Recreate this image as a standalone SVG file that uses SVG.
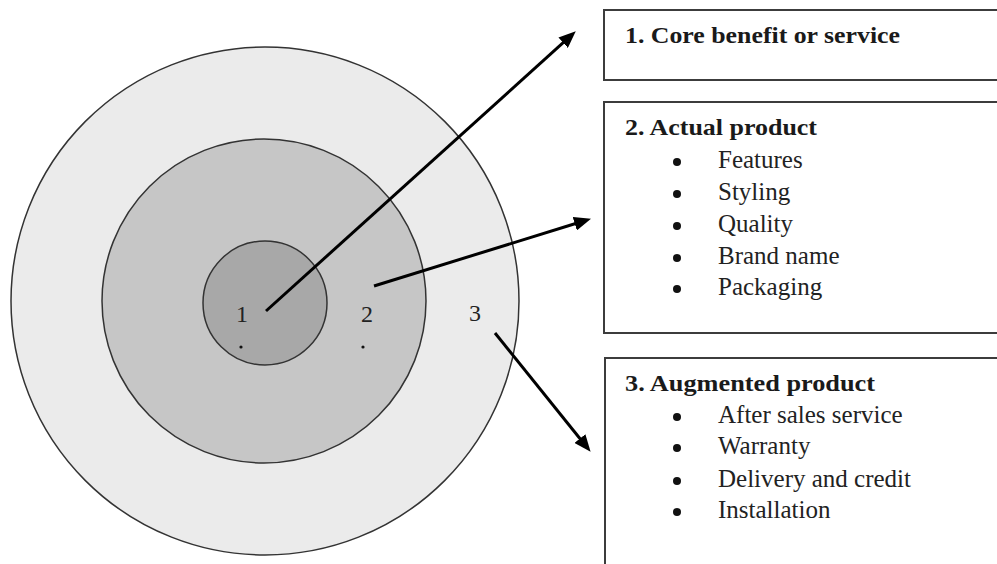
<svg xmlns="http://www.w3.org/2000/svg" width="997" height="564" viewBox="0 0 997 564">
<style>
.ring{stroke:#333;stroke-width:1.5}
.num{font-family:"Liberation Serif","Times New Roman",serif;font-size:24px;fill:#222}
.title{font-family:"Liberation Serif","Times New Roman",serif;font-size:24px;font-weight:bold;fill:#1a1a1a}
.item{font-family:"Liberation Serif","Times New Roman",serif;font-size:25px;fill:#222}
.box{fill:#fff;stroke:#3c3c3c;stroke-width:2}
.arrow{stroke:#000;stroke-width:3;fill:none;marker-end:url(#ah)}
.dot{fill:#111}
</style>
<defs>
<marker id="ah" viewBox="0 0 17 14" markerWidth="17" markerHeight="14" refX="6" refY="7" orient="auto" markerUnits="userSpaceOnUse">
<path d="M0,0 L17,7 L0,14 Z" fill="#000"/>
</marker>
</defs>
<rect width="997" height="564" fill="#fff"/>
<g id="ring3"><circle class="ring" cx="265" cy="301" r="254" fill="#ebebeb"/></g>
<g id="ring2"><circle class="ring" cx="264" cy="301" r="162" fill="#c6c6c6"/></g>
<g id="ring1"><circle class="ring" cx="265" cy="303" r="62" fill="#a8a8a8"/></g>
<g id="labels">
<text class="num" x="242" y="322" text-anchor="middle">1</text>
<circle class="dot" cx="241" cy="347" r="1.6"/>
<text class="num" x="367" y="322" text-anchor="middle">2</text>
<circle class="dot" cx="363" cy="347" r="1.6"/>
<text class="num" x="475" y="321" text-anchor="middle">3</text>
</g>
<g id="box1">
<rect class="box" x="604" y="10" width="420" height="70"/>
<text class="title" x="625" y="43" textLength="275" lengthAdjust="spacingAndGlyphs">1. Core benefit or service</text>
</g>
<g id="box2">
<rect class="box" x="604" y="102" width="420" height="231"/>
<text class="title" x="625" y="135" textLength="192" lengthAdjust="spacingAndGlyphs">2. Actual product</text>
<circle class="dot" cx="677" cy="162" r="4"/><text class="item" x="718" y="168">Features</text>
<circle class="dot" cx="677" cy="194" r="4"/><text class="item" x="718" y="200">Styling</text>
<circle class="dot" cx="677" cy="226" r="4"/><text class="item" x="718" y="232">Quality</text>
<circle class="dot" cx="677" cy="258" r="4"/><text class="item" x="718" y="264">Brand name</text>
<circle class="dot" cx="677" cy="289" r="4"/><text class="item" x="718" y="295">Packaging</text>
</g>
<g id="box3">
<rect class="box" x="605" y="358" width="420" height="230"/>
<text class="title" x="625" y="391" textLength="250" lengthAdjust="spacingAndGlyphs">3. Augmented product</text>
<circle class="dot" cx="677" cy="417" r="4"/><text class="item" x="718" y="423">After sales service</text>
<circle class="dot" cx="677" cy="448" r="4"/><text class="item" x="718" y="454">Warranty</text>
<circle class="dot" cx="677" cy="481" r="4"/><text class="item" x="718" y="487">Delivery and credit</text>
<circle class="dot" cx="677" cy="512" r="4"/><text class="item" x="718" y="518">Installation</text>
</g>
<g id="connectors">
<path class="arrow" d="M266,311 L567.6,38.7"/>
<path class="arrow" d="M374,286 L580.5,222"/>
<path class="arrow" d="M495,333 L583.7,443.2"/>
</g>
</svg>
